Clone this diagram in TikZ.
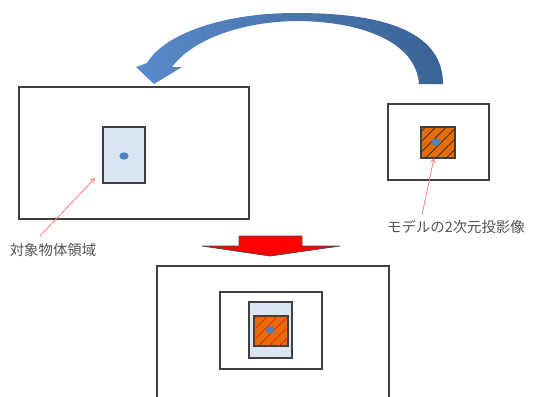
\documentclass[tikz,border=0pt]{standalone}
\usepackage{fontspec}
\newfontfamily\jp{Noto Sans CJK JP}
\usetikzlibrary{arrows.meta,patterns.meta}
\definecolor{frameC}{HTML}{404040}
\definecolor{lblue}{HTML}{DCE6F2}
\definecolor{dotC}{HTML}{4F81BD}
\definecolor{orangeC}{HTML}{E46C0A}
\definecolor{pinkC}{HTML}{FF7C80}
\definecolor{arrL}{HTML}{5A8ACB}
\definecolor{arrR}{HTML}{3B6294}
\tikzset{
  frame/.style={draw=frameC, line width=1.1pt, inner sep=0pt, outer sep=0pt},
  region/.style={frame, fill=lblue},
  proj/.style={frame, fill=orangeC, postaction={pattern={Lines[angle=45,distance=5.5pt,line width=0.5pt]}, pattern color=#1}},
  dotmark/.style={ellipse, fill=dotC, inner sep=0pt, minimum width=3.4pt, minimum height=2.8pt},
  lab/.style={font=\jp\fontsize{10.8pt}{12pt}\selectfont, text=frameC!90, inner sep=0pt},
  pointer/.style={draw=pinkC, line width=0.6pt, -{Straight Barb[length=3pt,width=3.5pt]}}
}
\pgfdeclareshape{ellipse}{\inheritsavedanchors[from=circle]\inheritanchor[from=circle]{center}\inheritanchorborder[from=circle]\backgroundpath{\pgfpathellipse{\centerpoint}{\pgfqpoint{\pgfkeysvalueof{/pgf/minimum width}*0.5}{0pt}}{\pgfqpoint{0pt}{\pgfkeysvalueof{/pgf/minimum height}*0.5}}}}
\begin{document}
\begin{tikzpicture}[x=0.75pt,y=-0.75pt]
\useasboundingbox[fill=white] (0,0) rectangle (533,397);
% curved blue arrow
\path[left color=arrL, right color=arrR]
  (443,84) .. controls (443,22) and (360,13) .. (295,13)
  .. controls (225,13) and (165,33) .. (147,63)
  -- (136,67) -- (154,84) -- (182,67) -- (172,67)
  .. controls (192,40) and (240,22) .. (295,21)
  .. controls (362,21) and (416,42) .. (419,84) -- cycle;
% left scene
\node[frame, minimum width=172.5pt, minimum height=99pt] (L) at (134,153) {};
\node[region, minimum width=31.5pt, minimum height=42pt] (Lr) at (124,155) {};
\node[dotmark] (Ld) at (124,156) {};
% right scene
\node[frame, minimum width=75.75pt, minimum height=57pt] (R) at (438.5,142) {};
\node[proj=black!85, minimum width=25.5pt, minimum height=23.25pt] (Rp) at (438,142.5) {};
\node[dotmark] (Rd) at (436,142) {};
% labels
\node[lab] (t1) at (53,250) {対象物体領域};
\node[lab] (t2) at (456,227) {モデルの2次元投影像};
\coordinate (a1) at (40,236);
\coordinate (a1e) at (95,178);
\coordinate (a2) at (422,215);
\coordinate (a2e) at (434,158);
\draw[pointer] (a1) -- (a1e);
\draw[pointer] (a2) -- (a2e);
% red arrow
\draw[fill=red, draw=black!70, line width=0.6pt]
  (239,236) -- (302,236) -- (302,246) -- (340,246) -- (270,256) -- (202,246) -- (239,246) -- cycle;
% bottom scene
\coordinate (B1) at (157,405);
\coordinate (B2) at (389,266);
\coordinate (B3) at (389,405);
\draw[frame] (B1) |- (B2) -- (B3);
\node[frame, minimum width=76.5pt, minimum height=57.75pt] (Bf) at (271,330.5) {};
\node[region, minimum width=32.25pt, minimum height=42pt] (Br) at (270.5,330) {};
\node[proj=red!75!orangeC, minimum width=25.5pt, minimum height=22.5pt] (Bp) at (271,331) {};
\node[dotmark] (Bd) at (270,330) {};
\end{tikzpicture}
\end{document}
